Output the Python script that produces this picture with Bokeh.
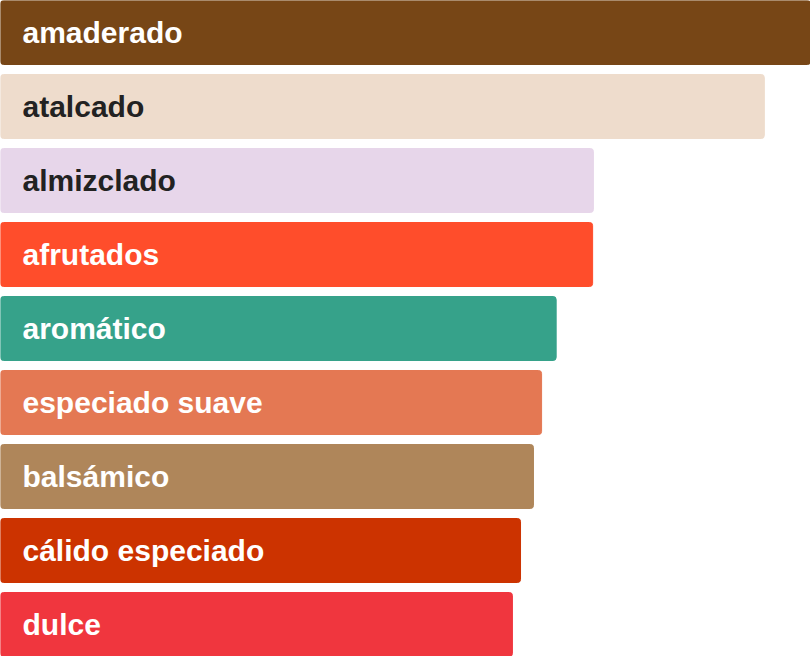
from bokeh.core.properties import value
from bokeh.embed import file_html
from bokeh.models import ColumnDataSource, Range1d
from bokeh.plotting import figure
from bokeh.resources import INLINE

# top to bottom
notes = ["amaderado", "atalcado", "almizclado", "afrutados", "aromático",
         "especiado suave", "balsámico", "cálido especiado", "dulce"]
scores = [100, 94.3, 73.2, 73.1, 68.6, 66.8, 65.8, 64.2, 63.2]
colors = ["#774616", "#EEDCCC", "#E7D6EA", "#FF4D2B", "#36A28A",
          "#E47853", "#AF865A", "#CC3300", "#F0363E"]
label_colors = ["#ffffff", "#222222", "#222222", "#ffffff", "#ffffff",
                "#ffffff", "#ffffff", "#ffffff", "#ffffff"]

BAR_H = 64 / 74

source = ColumnDataSource(data=dict(
    note=notes,
    score=scores,
    pos=list(range(len(notes))),
    color=colors,
    label_color=label_colors,
    zero=[0] * len(notes),
))

p = figure(width=810, height=656, output_backend="svg", toolbar_location=None,
           x_range=Range1d(0, 100),
           y_range=Range1d(len(notes) - 1 + BAR_H / 2, -BAR_H / 2),
           min_border=0)
p.axis.visible = False
p.grid.visible = False
p.outline_line_color = None

p.hbar(y="pos", left=0, right="score", height=BAR_H, color="color",
       border_radius=3, source=source)

p.text(x="zero", y="pos", text="note", x_offset=22, y_offset=0,
       text_color="label_color", text_font=value("Liberation Sans"),
       text_font_style="bold", text_font_size="30px",
       text_baseline="middle", source=source)

open("out.html", "w").write(file_html(p, INLINE))
